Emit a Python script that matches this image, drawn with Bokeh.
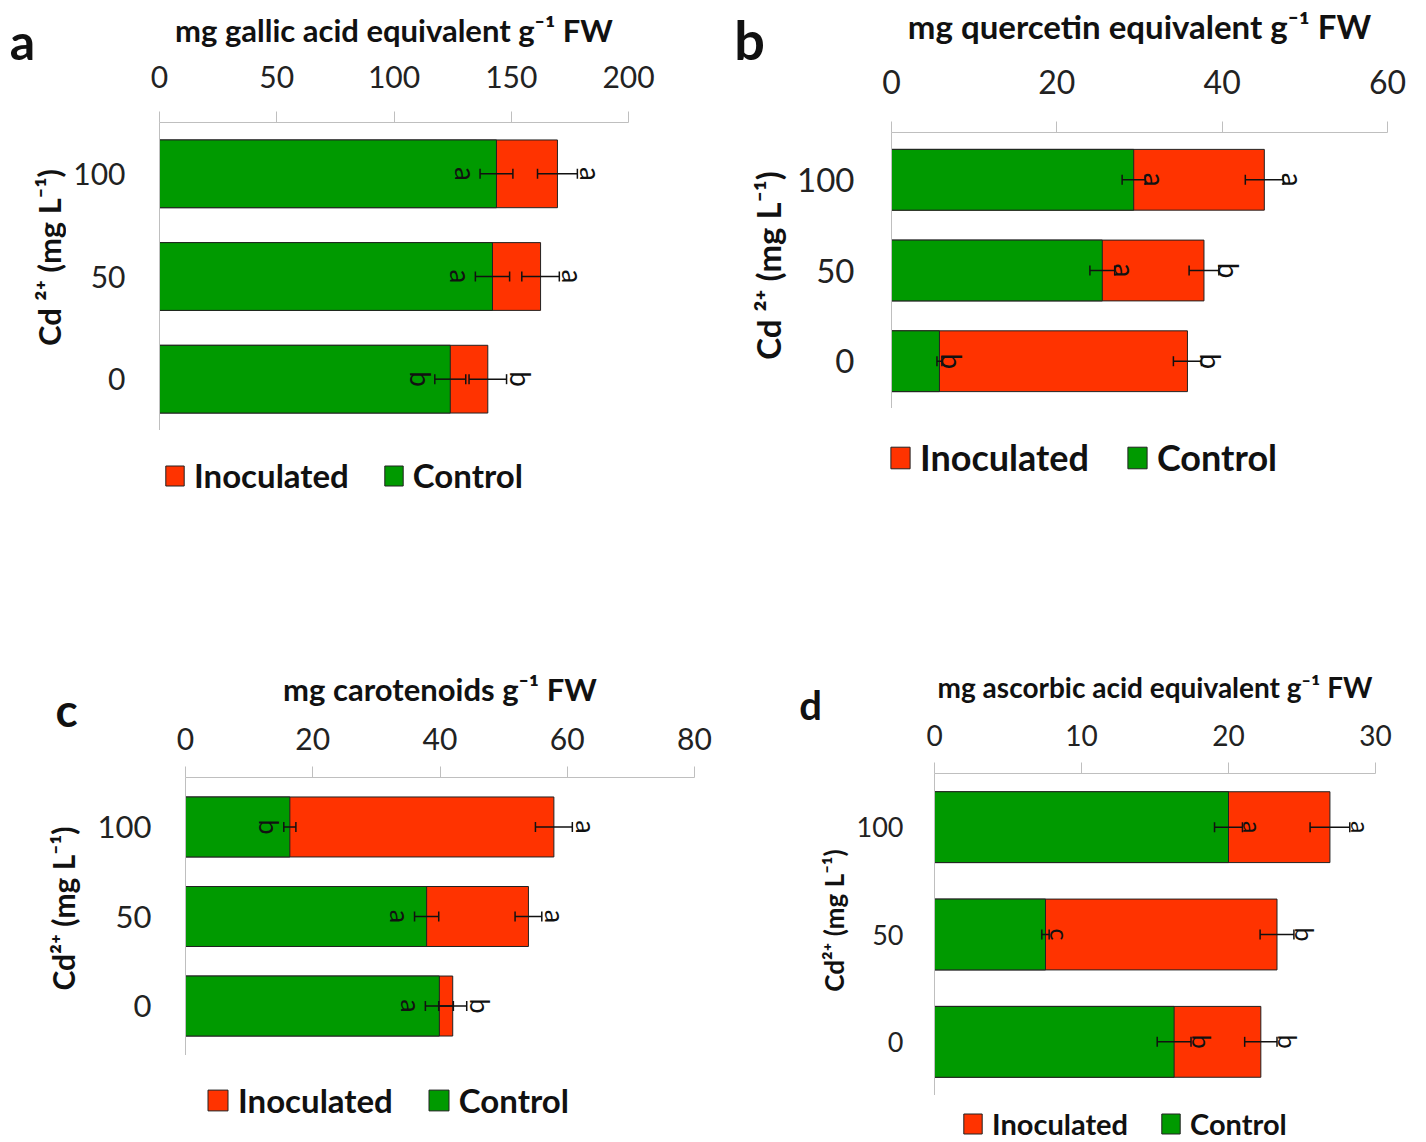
import math
from bokeh.plotting import figure
from bokeh.models import (ColumnDataSource, FactorRange, Range1d, FixedTicker,
                          Legend, LegendItem)
from bokeh.layouts import column, row
from bokeh.embed import file_html
from bokeh.resources import INLINE
from bokeh.core.properties import value

# ---------------- data ----------------
cd_levels = ["0", "50", "100"]

a_control = [124.0, 142.0, 143.7]
a_control_err = [6.6, 7.3, 7.0]
a_inoc = [140.0, 162.5, 169.7]
a_inoc_err = [8.0, 8.0, 8.5]
a_control_letters = ["b", "a", "a"]
a_inoc_letters = ["b", "a", "a"]
a_ticks = [0, 50, 100, 150, 200]

b_control = [5.8, 25.5, 29.3]
b_control_err = [0.3, 1.5, 1.4]
b_inoc = [35.8, 37.8, 45.1]
b_inoc_err = [1.7, 1.8, 2.3]
b_control_letters = ["b", "a", "a"]
b_inoc_letters = ["b", "b", "a"]
b_ticks = [0, 20, 40, 60]

c_control = [39.9, 37.9, 16.4]
c_control_err = [2.2, 1.9, 0.95]
c_inoc = [42.0, 53.9, 57.9]
c_inoc_err = [2.2, 2.1, 2.9]
c_control_letters = ["a", "a", "b"]
c_inoc_letters = ["b", "a", "a"]
c_ticks = [0, 20, 40, 60, 80]

d_control = [16.3, 7.55, 20.0]
d_control_err = [1.15, 0.25, 0.95]
d_inoc = [22.2, 23.3, 26.9]
d_inoc_err = [1.1, 1.15, 1.35]
d_control_letters = ["b", "c", "a"]
d_inoc_letters = ["b", "b", "a"]
d_ticks = [0, 10, 20, 30]

series_names = ["Inoculated", "Control"]
panel_letters = ["a", "b", "c", "d"]
x_titles = ["mg gallic acid equivalent g\u207b\u00b9 FW",
            "mg quercetin equivalent g\u207b\u00b9 FW",
            "mg carotenoids g\u207b\u00b9 FW",
            "mg ascorbic acid equivalent g\u207b\u00b9 FW"]
y_titles = ["Cd \u00b2\u207a (mg L\u207b\u00b9)", "Cd \u00b2\u207a (mg L\u207b\u00b9)",
            "Cd\u00b2\u207a (mg L\u207b\u00b9)", "Cd\u00b2\u207a (mg L\u207b\u00b9)"]

RED = "#FF3300"
GREEN = "#009A00"
EDGE = "#222222"
INK = "#111111"
FONT = "Lato"


def plain(f):
    f.frame_align = False
    f.outline_line_color = None
    f.xgrid.visible = False
    f.ygrid.visible = False
    return f


def side_fig(letter, ytitle, s):
    """Panel letter and the (vertical) Cd axis title, left of the plot."""
    f = plain(figure(width=s["sw"], height=s["sh"], output_backend="svg",
                     toolbar_location=None, x_axis_location=None, y_axis_location=None,
                     x_range=Range1d(0, s["sw"]), y_range=Range1d(0, s["sh"]),
                     min_border=0))
    f.text(x=[s["lx"]], y=[s["sh"] - s["ly"]], text=[letter],
           text_font=value(FONT), text_font_style="bold", text_font_size=s["lfs_p"],
           text_align="center", text_baseline="alphabetic", text_color=INK)
    f.text(x=[s["tx"]], y=[s["sh"] - s["ty"]], text=[ytitle], angle=math.pi / 2,
           text_font=value(FONT), text_font_style="bold", text_font_size=s["ytfs"],
           text_align="center", text_baseline="middle", text_color=INK)
    return f


def main_fig(xtitle, ticks, src, s):
    p = plain(figure(width=s["mw"], height=s["mh"], output_backend="svg",
                     toolbar_location=None, x_axis_location="above",
                     y_range=FactorRange(factors=cd_levels, range_padding=s["pad"]),
                     x_range=Range1d(ticks[0], ticks[-1]),
                     min_border_left=s["ml"], min_border_right=s["mr"],
                     min_border_top=s["mt"], min_border_bottom=0))

    p.hbar(y="y", left=0, right="inoc", height=s["bh"], source=src,
           fill_color=RED, line_color=EDGE, line_width=1)
    p.hbar(y="y", left=0, right="ctrl", height=s["bh"], source=src,
           fill_color=GREEN, line_color=EDGE, line_width=1)

    for lo, hi in (("clo", "chi"), ("ilo", "ihi")):
        p.segment(x0=lo, y0="y", x1=hi, y1="y", source=src,
                  line_color=INK, line_width=1.5)
        for c in (lo, hi):
            p.scatter(x=c, y="y", source=src, marker="dash", angle=math.pi / 2,
                      size=10, line_color=INK, line_width=1.5)

    for xcol, tcol in (("clx", "cl"), ("ilx", "il")):
        p.text(x=xcol, y="y", text=tcol, source=src, angle=-math.pi / 2,
               text_align="center", text_baseline="middle",
               text_font=value(FONT), text_font_size=s["lfs"], text_color=INK)

    xa = p.xaxis[0]
    xa.ticker = FixedTicker(ticks=ticks)
    xa.axis_label = xtitle
    xa.axis_label_text_font = FONT
    xa.axis_label_text_font_style = "bold"
    xa.axis_label_text_font_size = s["xtfs"]
    xa.axis_label_text_color = INK
    xa.axis_label_standoff = s["xts"]
    xa.major_label_text_font = FONT
    xa.major_label_text_font_size = s["tfs"]
    xa.major_label_text_color = "#222222"
    xa.major_label_standoff = s["xls"]
    xa.axis_line_color = "#BFBFBF"
    xa.major_tick_line_color = "#BFBFBF"
    xa.major_tick_in = 0
    xa.major_tick_out = 11
    xa.minor_tick_line_color = None

    ya = p.yaxis[0]
    ya.major_label_text_font = FONT
    ya.major_label_text_font_size = s["ytkfs"]
    ya.major_label_text_color = "#222222"
    ya.major_label_standoff = s["yls"]
    ya.axis_line_color = "#BFBFBF"
    ya.major_tick_line_color = None
    ya.major_tick_in = 0
    ya.major_tick_out = 0
    return p


def legend_fig(src, s):
    # the same two bar series, drawn outside this strip's visible x-range, so that
    # only their legend entries appear below the plot
    f = plain(figure(width=s["mw"], height=s["lh"], output_backend="svg",
                     toolbar_location=None, x_axis_location=None, y_axis_location=None,
                     x_range=Range1d(-2, -1), y_range=FactorRange(factors=cd_levels),
                     min_border=0))
    r_inoc = f.hbar(y="y", left=0, right="inoc", height=0.5, source=src,
                    fill_color=RED, line_color=EDGE, line_width=1)
    r_ctrl = f.hbar(y="y", left=0, right="ctrl", height=0.5, source=src,
                    fill_color=GREEN, line_color=EDGE, line_width=1)
    leg = Legend(items=[LegendItem(label=series_names[0], renderers=[r_inoc]),
                        LegendItem(label=series_names[1], renderers=[r_ctrl])],
                 orientation="horizontal", location=s["legloc"],
                 glyph_width=s["gw"], glyph_height=s["gh"], label_standoff=8,
                 spacing=s["lsp"], padding=0, margin=0,
                 border_line_alpha=0, background_fill_alpha=0,
                 label_text_font=FONT, label_text_font_style="bold",
                 label_text_font_size=s["legfs"], label_text_color=INK)
    f.add_layout(leg)
    return f


def panel(i, ticks, ctrl, ctrl_err, inoc, inoc_err, cl, il, s):
    src = ColumnDataSource(dict(
        y=cd_levels, ctrl=ctrl, inoc=inoc,
        clo=[v - e for v, e in zip(ctrl, ctrl_err)],
        chi=[v + e for v, e in zip(ctrl, ctrl_err)],
        ilo=[v - e for v, e in zip(inoc, inoc_err)],
        ihi=[v + e for v, e in zip(inoc, inoc_err)],
        cl=cl, il=il,
    ))
    pad = s["lpad"]
    if s["cside"] < 0:
        src.data["clx"] = [lo - pad for lo in src.data["clo"]]
    else:
        src.data["clx"] = [hi + pad for hi in src.data["chi"]]
    src.data["ilx"] = [hi + pad for hi in src.data["ihi"]]

    side = side_fig(panel_letters[i], y_titles[i], s)
    main = main_fig(x_titles[i], ticks, src, s)
    leg = legend_fig(src, s)
    return [side, column(main, leg)]


TOP_H = 570
BOT_H = 571

sa = dict(sw=66, sh=TOP_H, lx=22, ly=40, lfs_p="50px", tx=48, ty=257, ytfs="31px",
          mw=647, mh=430, ml=93, mr=85, mt=122, pad=0.0, bh=0.66,
          lpad=6.0, cside=-1, lfs="28px", xtfs="31px", xts=14, tfs="30px", xls=24,
          ytkfs="30px", yls=34,
          lh=TOP_H - 430, legloc=(97, 75), gw=23, gh=25, lsp=33, legfs="33px")

sb = dict(sw=77, sh=TOP_H, lx=36, ly=39, lfs_p="54px", tx=54, ty=265, ytfs="33px",
          mw=636, mh=408, ml=101, mr=39, mt=132, pad=0.014, bh=0.67,
          lpad=1.2, cside=1, lfs="28px", xtfs="33px", xts=21, tfs="32px", xls=28,
          ytkfs="33px", yls=37,
          lh=TOP_H - 408, legloc=(98, 91), gw=24, gh=27, lsp=36, legfs="36px")

sc = dict(sw=88, sh=BOT_H, lx=66, ly=139, lfs_p="46px", tx=62, ty=338, ytfs="30px",
          mw=625, mh=485, ml=97, mr=19, mt=207, pad=0.035, bh=0.67,
          lpad=2.2, cside=-1, lfs="27px", xtfs="31px", xts=17, tfs="30px", xls=17,
          ytkfs="31px", yls=34,
          lh=BOT_H - 485, legloc=(117, 21), gw=25, gh=26, lsp=33, legfs="33px")

sd = dict(sw=137, sh=BOT_H, lx=97, ly=134, lfs_p="40px", tx=120, ty=350, ytfs="26px",
          mw=576, mh=525, ml=84, mr=51, mt=203, pad=0.0, bh=0.66,
          lpad=0.75, cside=1, lfs="25px", xtfs="28px", xts=18, tfs="28px", xls=17,
          ytkfs="27px", yls=31,
          lh=BOT_H - 525, legloc=(111, 0), gw=23, gh=25, lsp=31, legfs="29px")

top = row(*panel(0, a_ticks, a_control, a_control_err, a_inoc, a_inoc_err,
                 a_control_letters, a_inoc_letters, sa),
          *panel(1, b_ticks, b_control, b_control_err, b_inoc, b_inoc_err,
                 b_control_letters, b_inoc_letters, sb))
bottom = row(*panel(2, c_ticks, c_control, c_control_err, c_inoc, c_inoc_err,
                    c_control_letters, c_inoc_letters, sc),
             *panel(3, d_ticks, d_control, d_control_err, d_inoc, d_inoc_err,
                    d_control_letters, d_inoc_letters, sd))

layout = column(top, bottom)
open("out.html", "w").write(file_html(layout, INLINE))
